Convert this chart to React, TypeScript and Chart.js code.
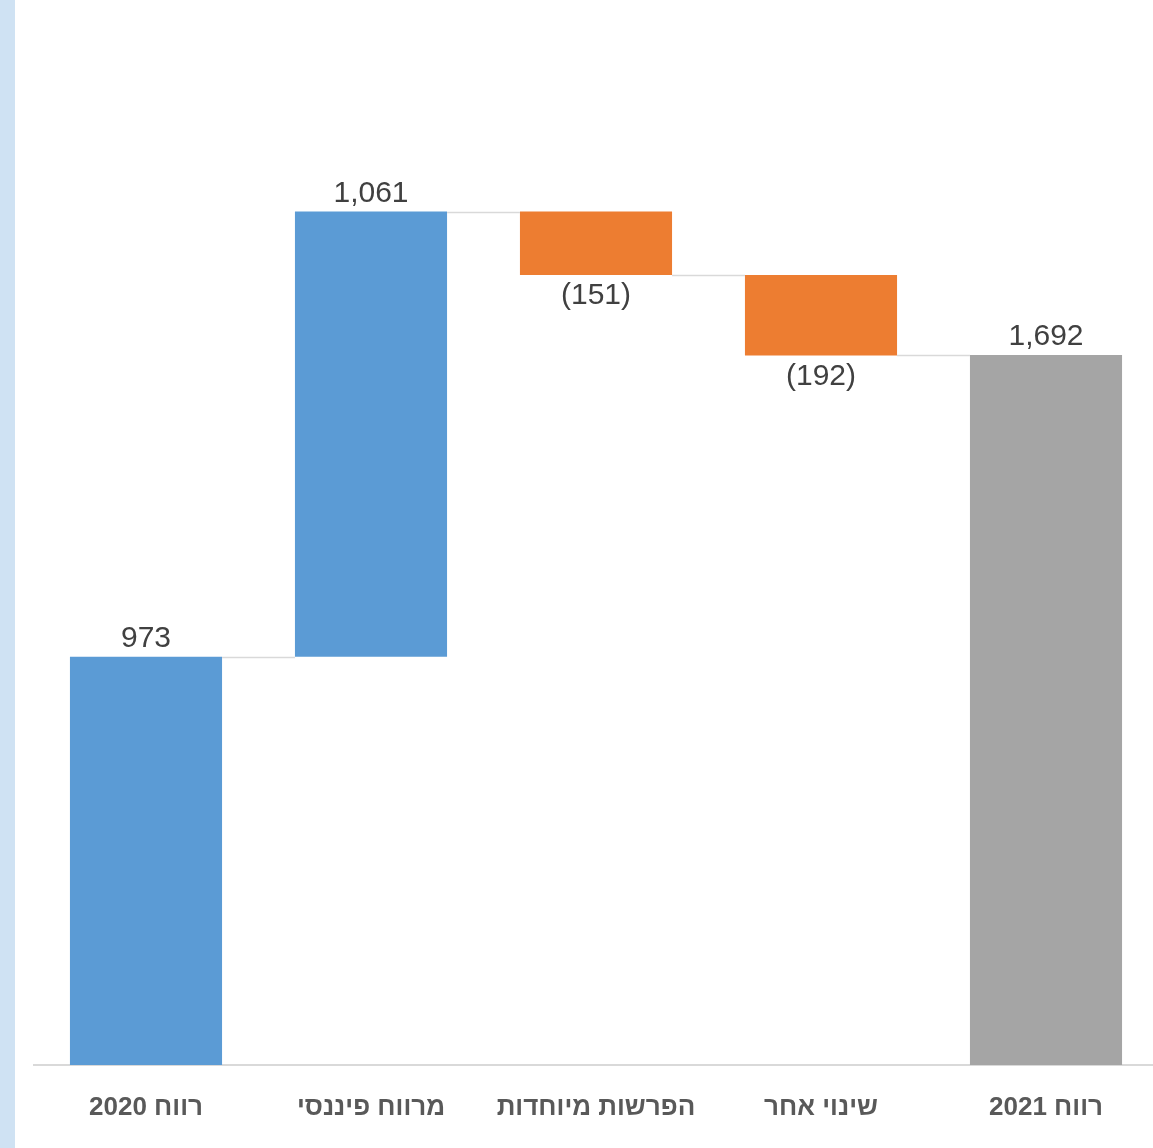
import React, { useEffect, useRef } from "react";
import { Chart, registerables } from "chart.js";

Chart.register(...registerables);

const categories = ["רווח 2020", "מרווח פיננסי", "הפרשות מיוחדות", "שינוי אחר", "רווח 2021"];
const changes = [973, 1061, -151, -192, 1692];
const isTotal = [true, false, false, false, true];
const valueLabels = ["973", "1,061", "(151)", "(192)", "1,692"];
const barColors = ["#5b9bd5", "#5b9bd5", "#ed7d31", "#ed7d31", "#a5a5a5"];
const yMin = 0;
const yMax = 2500;

function buildRanges() {
  const ranges: [number, number][] = [];
  let running = 0;
  changes.forEach((v, i) => {
    if (isTotal[i]) {
      ranges.push([0, v]);
      running = v;
    } else {
      ranges.push([running, running + v]);
      running += v;
    }
  });
  return ranges;
}

export default function App() {
  const ref = useRef<HTMLCanvasElement | null>(null);
  useEffect(() => {
    if (!ref.current) return;
    const ranges = buildRanges();
    const waterfallPlugin = {
      id: "waterfallExtras",
      afterDatasetsDraw(chart: any) {
        const ctx = chart.ctx;
        const meta = chart.getDatasetMeta(0);
        const y = chart.scales.y;
        ctx.save();
        ctx.strokeStyle = "#d9d9d9";
        ctx.lineWidth = 1.5;
        for (let i = 0; i < ranges.length - 1; i++) {
          const a = meta.data[i];
          const b = meta.data[i + 1];
          const level = ranges[i][1];
          const py = Math.round(y.getPixelForValue(level)) + 0.5;
          ctx.beginPath();
          ctx.moveTo(a.x + a.width / 2, py);
          ctx.lineTo(b.x - b.width / 2, py);
          ctx.stroke();
        }
        ctx.direction = "ltr";
        ctx.font = "30px 'Liberation Sans', Arial, sans-serif";
        ctx.fillStyle = "#404040";
        ctx.textAlign = "center";
        ctx.textBaseline = "middle";
        for (let i = 0; i < ranges.length; i++) {
          const el = meta.data[i];
          const top = Math.max(ranges[i][0], ranges[i][1]);
          const bottom = Math.min(ranges[i][0], ranges[i][1]);
          if (changes[i] >= 0) {
            ctx.fillText(valueLabels[i], el.x, y.getPixelForValue(top) - 18);
          } else {
            ctx.fillText(valueLabels[i], el.x, y.getPixelForValue(bottom) + 21);
          }
        }
        ctx.restore();
      },
    };
    const chart = new Chart(ref.current, {
      type: "bar",
      data: {
        labels: categories,
        datasets: [
          {
            data: ranges as any,
            backgroundColor: barColors,
            borderWidth: 0,
            borderSkipped: false,
            barPercentage: 0.676,
            categoryPercentage: 1,
          },
        ],
      },
      options: {
        animation: false,
        responsive: false,
        maintainAspectRatio: false,
        layout: { padding: { left: 17.5, right: 0.5, top: 16, bottom: 0 } },
        plugins: { legend: { display: false }, tooltip: { enabled: false }, title: { display: false } },
        scales: {
          x: {
            grid: { display: false, drawTicks: false },
            border: { display: true, color: "#d9d9d9", width: 2 },
            ticks: {
              color: "#595959",
              font: { family: "'Liberation Sans', Arial, sans-serif", size: 26, weight: "bold" },
              padding: 27,
              maxRotation: 0,
              autoSkip: false,
            },
            afterFit(scale: any) {
              scale.height = 83;
            },
          },
          y: { display: false, min: yMin, max: yMax },
        },
      },
      plugins: [waterfallPlugin],
    });
    return () => chart.destroy();
  }, []);
  return (
    <div style={{ position: "fixed", left: 0, top: 0, width: 1153, height: 1148, overflow: "hidden", background: "#ffffff" }}>
      <div style={{ position: "absolute", left: 0, top: 0, width: 15, height: 1148, background: "#cfe2f3" }} />
      <div style={{ position: "absolute", left: 16, top: 0, width: 1143, height: 1148 }}>
        <canvas ref={ref} width={1143} height={1148} dir="rtl" style={{ width: 1143, height: 1148, display: "block" }} />
      </div>
    </div>
  );
}
